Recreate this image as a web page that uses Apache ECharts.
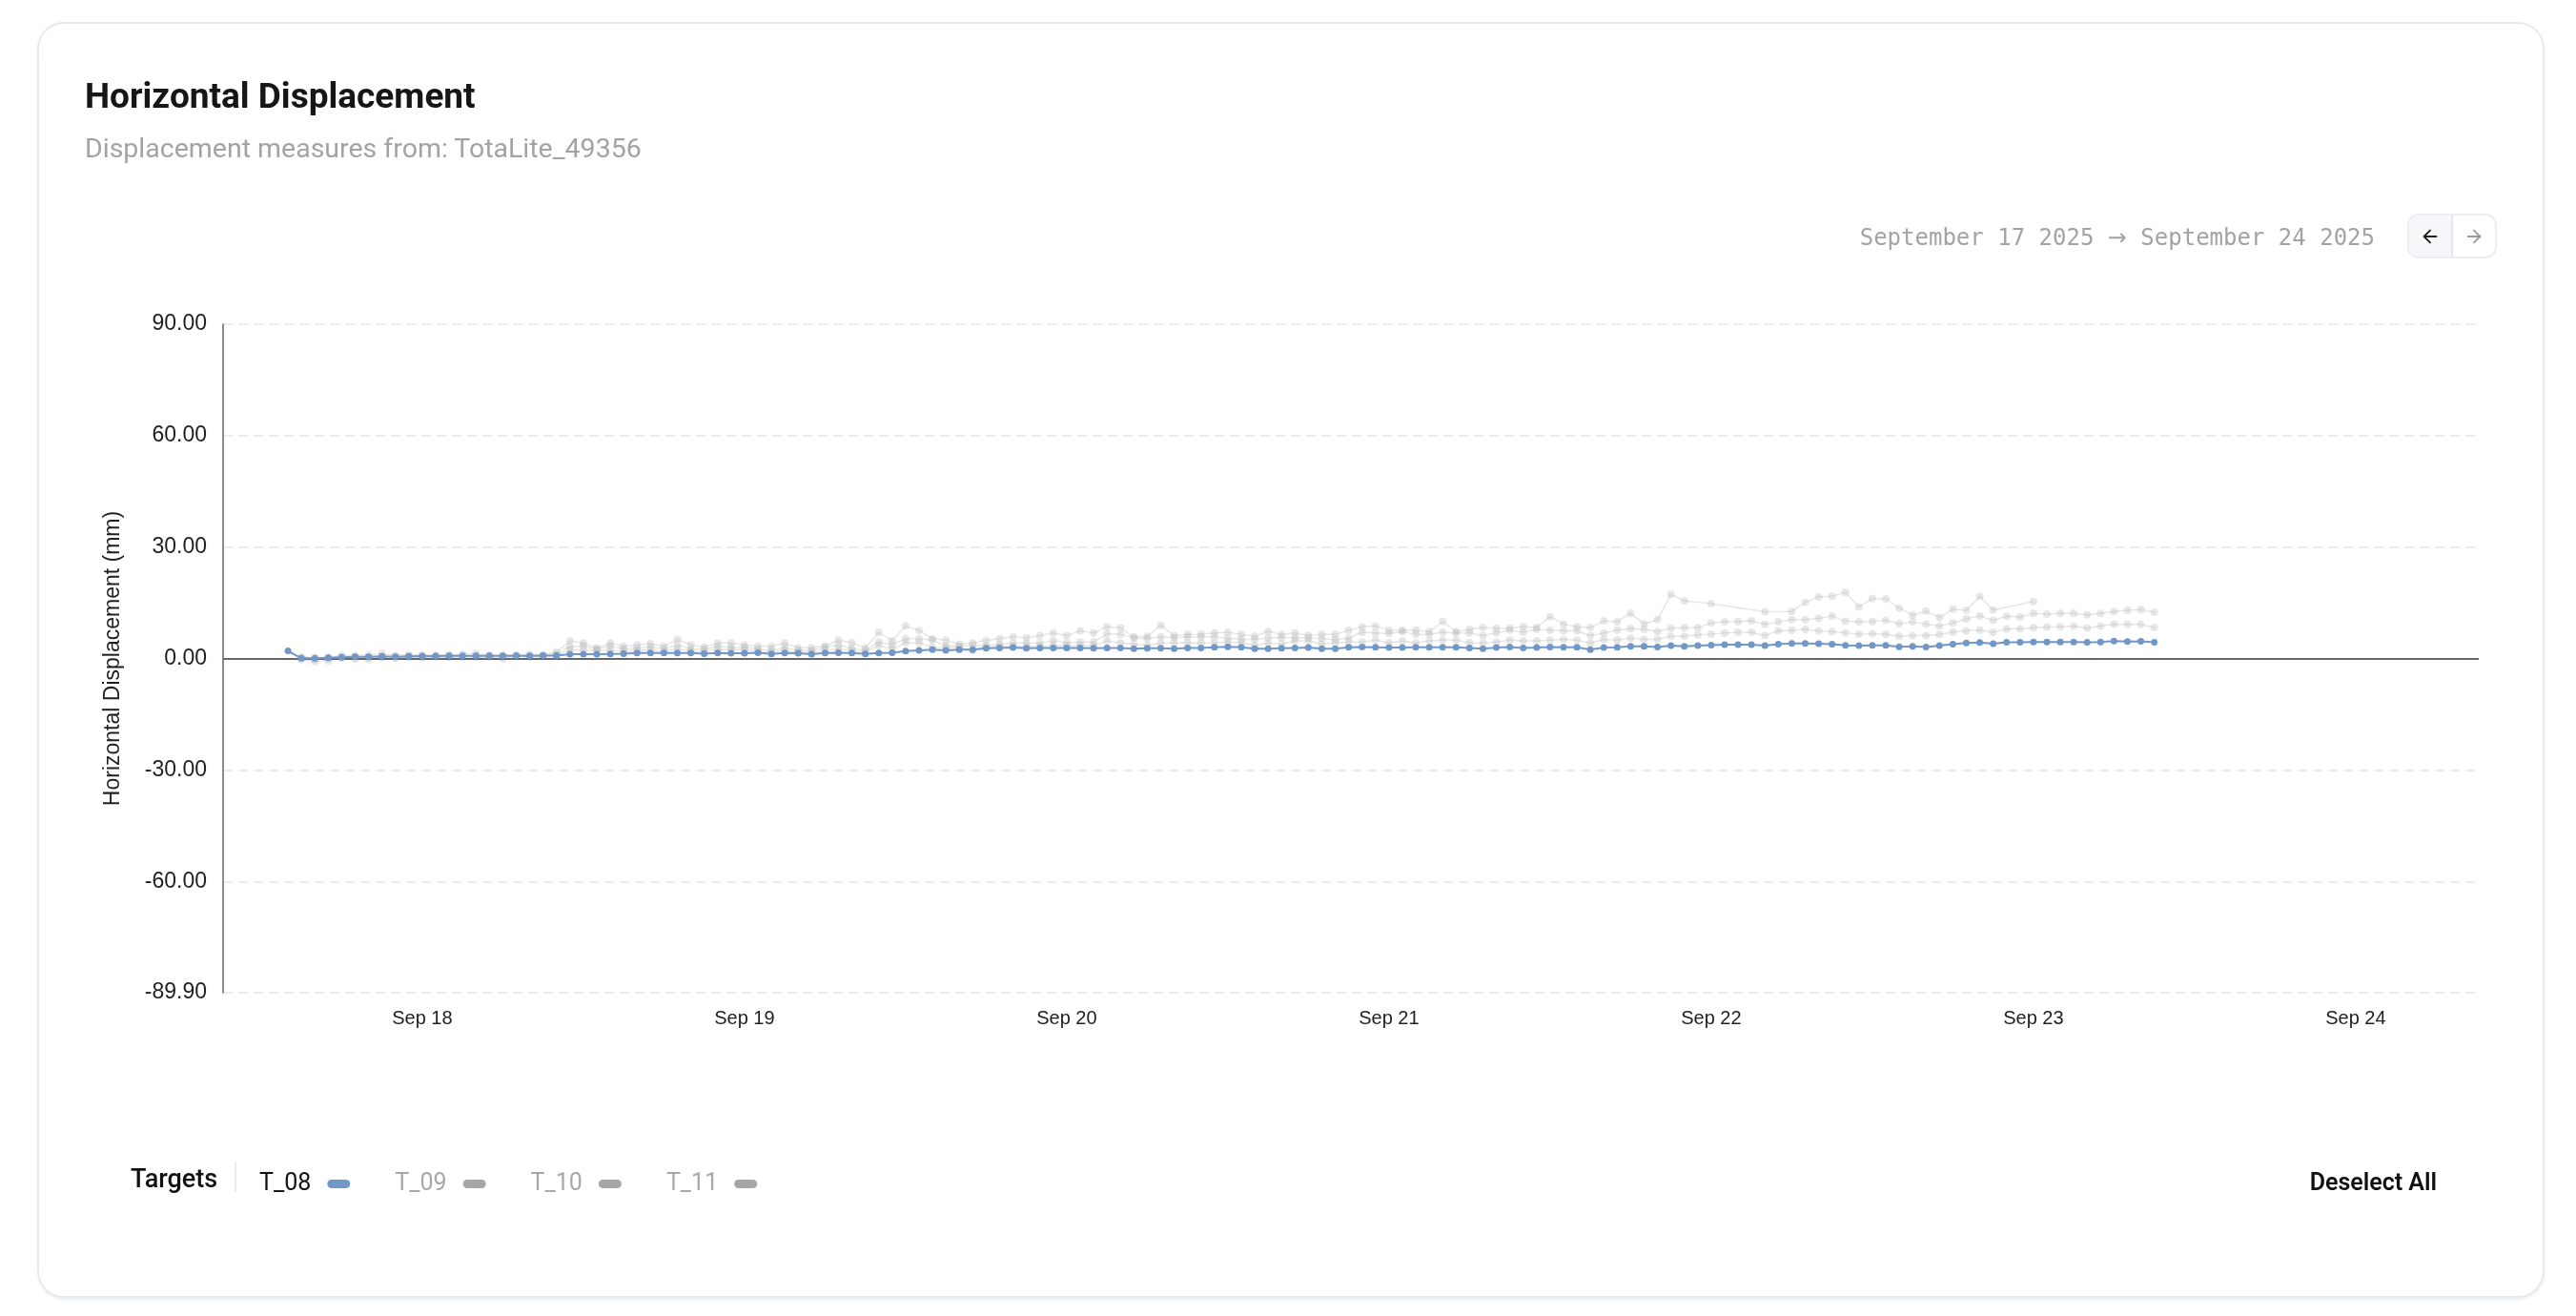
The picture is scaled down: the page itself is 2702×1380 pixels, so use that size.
<!DOCTYPE html>
<html>
<head>
<meta charset="utf-8">
<title>Horizontal Displacement</title>
<script src="https://cdn.jsdelivr.net/npm/echarts@6.0.0/dist/echarts.min.js"></script>
<style>
  html, body { margin: 0; padding: 0; background: #fff; }
  body { width: 2702px; height: 1380px; position: relative; overflow: hidden; font-family: Roboto, "Noto Sans", sans-serif; }
  .card { position: absolute; left: 39px; top: 23px; width: 2630px; height: 1338px; box-sizing: border-box;
          border: 2px solid #e6e9f0; border-radius: 28px; box-shadow: 0 2px 3px rgba(200, 206, 220, 0.35); }
  #chart { position: absolute; left: 0; top: 0; width: 2702px; height: 1380px; }
  .title { position: absolute; left: 89px; top: 82px; font-size: 37px; line-height: 37px; font-weight: 700; color: #161616; white-space: nowrap; }
  .sub { position: absolute; left: 89px; top: 142px; font-size: 28.5px; line-height: 28px; color: #a3a3a3; white-space: nowrap; }
  .range { position: absolute; right: 211px; top: 237px; font-family: "DejaVu Sans Mono", monospace; font-size: 24px; line-height: 24px; color: #a3a3a3; white-space: pre; }
  .range .arr { font-family: "DejaVu Sans", sans-serif; font-size: 24px; }
  .nav { position: absolute; left: 2525px; top: 224px; width: 94px; height: 47px; box-sizing: border-box;
         border: 2px solid #eceef3; border-radius: 12px; display: flex; overflow: hidden; }
  .nav div { flex: 1; display: flex; align-items: center; justify-content: center; }
  .nav .prev { background: #f6f7f9; border-right: 2px solid #e4e7ee; }
</style>
</head>
<body>
<div class="card"></div>
<div id="chart"></div>
<div class="title">Horizontal Displacement</div>
<div class="sub">Displacement measures from: TotaLite_49356</div>
<div class="range">September 17 2025 <span class="arr">→</span> September 24 2025</div>
<div class="nav">
  <div class="prev"><svg width="22" height="22" viewBox="0 0 24 24" fill="none" stroke="#1f1f1f" stroke-width="2" stroke-linecap="round" stroke-linejoin="round"><path d="M19 12H5"/><path d="M12 19l-7-7 7-7"/></svg></div>
  <div class="next"><svg width="22" height="22" viewBox="0 0 24 24" fill="none" stroke="#9a9a9a" stroke-width="2" stroke-linecap="round" stroke-linejoin="round"><path d="M5 12h14"/><path d="M12 5l7 7-7 7"/></svg></div>
</div>
<script>
// readings are hourly, first one at 17 Sep 14:00
var firstReading = '2025-09-17T14:00:00';
var stepHours = 1;
var windowStart = '2025-09-17T09:10:00';
var windowEnd = '2025-09-24T09:10:00';

var targets = ['T_08', 'T_09', 'T_10', 'T_11'];

var t08 = [
  2.1, 0.1, 0.1, 0.25, 0.4, 0.5, 0.5, 0.6, 0.5, 0.6,
  0.7, 0.7, 0.75, 0.75, 0.75, 0.75, 0.75, 0.75, 0.75, 0.85,
  0.85, 1.2, 1.2, 1.2, 1.3, 1.35, 1.5, 1.5, 1.5, 1.5,
  1.5, 1.35, 1.5, 1.45, 1.45, 1.6, 1.3, 1.5, 1.45, 1.2,
  1.5, 1.6, 1.5, 1.3, 1.5, 1.6, 2.05, 2.2, 2.4, 2.2,
  2.4, 2.45, 2.8, 2.9, 3.0, 2.8, 2.9, 2.9, 2.9, 2.9,
  2.8, 2.9, 2.9, 2.7, 2.8, 2.8, 2.7, 2.9, 2.9, 3.05,
  3.2, 3.05, 2.65, 2.65, 2.8, 2.9, 3.0, 2.7, 2.65, 3.05,
  3.15, 3.05, 3.0, 3.0, 3.05, 3.05, 3.05, 3.05, 2.9, 2.7,
  3.0, 3.15, 2.9, 3.0, 3.15, 3.05, 3.05, 2.45, 3.0, 3.05,
  3.3, 3.3, 3.15, 3.5, 3.35, 3.5, 3.65, 3.75, 3.8, 3.8,
  3.5, 3.9, 4.1, 4.1, 4.0, 3.9, 3.55, 3.5, 3.55, 3.55,
  3.2, 3.3, 3.15, 3.5, 3.9, 4.25, 4.35, 4.0, 4.4, 4.4,
  4.5, 4.5, 4.5, 4.5, 4.4, 4.5, 4.75, 4.6, 4.7, 4.4
];

var t09 = [
  null, 0.5, 0.3, 0.4, 0.8, 0.9, 1.0, 1.4, 0.9, 1.1,
  1.0, 0.9, 1.1, 1.2, 1.4, 1.0, 1.1, 1.0, 1.2, 1.1,
  1.8, 4.8, 4.2, 2.8, 4.2, 3.3, 3.7, 4.0, 3.3, 5.2,
  3.7, 3.1, 4.2, 4.2, 3.7, 3.3, 3.3, 4.2, 2.9, 3.0,
  3.4, 5.0, 4.3, 2.9, 7.1, 4.8, 8.8, 7.6, 5.4, 5.0,
  3.9, 4.2, 4.9, 5.4, 5.9, 5.6, 6.2, 6.9, 6.2, 7.5,
  6.9, 8.6, 8.3, 5.8, 6.0, 9.0, 6.2, 6.5, 6.6, 6.9,
  7.1, 6.5, 6.0, 7.3, 6.5, 6.9, 6.3, 6.5, 6.5, 7.6,
  8.6, 8.8, 7.6, 7.6, 7.7, 7.3, 10.0, 7.3, 7.9, 8.4,
  8.2, 8.2, 8.6, 8.4, 11.3, 9.3, 8.6, 8.4, 10.1, 9.9,
  12.2, 9.3, 10.5, 17.3, 15.6, null, 14.8, null, null, null,
  12.6, null, 12.7, 15.1, 16.6, 16.8, 17.8, 13.9, 16.2, 16.1,
  13.6, 11.7, 12.8, 11.1, 13.3, 13.0, 16.7, 13.1, null, null,
  15.4, null, null, null, null, null, null, null, null, null
];

var t10 = [
  null, 0.1, -0.2, 0.0, 0.4, 0.5, 0.3, 0.6, 0.5, 0.7,
  0.6, 0.7, 0.6, 0.8, 0.7, 0.6, 0.5, 0.8, 0.7, 0.9,
  1.2, 3.3, 3.4, 2.6, 3.4, 2.6, 2.8, 3.1, 2.6, 3.7,
  2.6, 2.5, 3.3, 3.0, 3.0, 2.6, 2.2, 3.0, 2.2, 2.2,
  3.0, 3.7, 2.8, 2.2, 4.5, 3.7, 5.4, 5.4, 5.0, 3.5,
  3.3, 3.6, 3.5, 3.9, 4.2, 4.2, 4.2, 4.8, 4.3, 4.5,
  4.5, 6.7, 6.5, 5.6, 5.4, 5.9, 5.6, 5.8, 5.8, 5.9,
  5.5, 5.2, 5.2, 5.6, 5.6, 5.6, 5.6, 5.3, 5.2, 5.5,
  7.1, 6.9, 6.7, 7.3, 6.5, 6.5, 7.1, 6.9, 6.9, 6.2,
  6.9, 7.7, 7.1, 7.9, 7.7, 7.5, 7.5, 6.2, 6.9, 7.7,
  8.1, 7.9, 7.3, 8.2, 8.3, 8.3, 9.6, 9.9, 10.0, 10.2,
  9.2, 9.9, 10.5, 10.5, 10.8, 11.5, 10.1, 9.9, 10.0, 10.3,
  9.4, 9.9, 9.3, 8.8, 9.6, 10.7, 11.5, 10.3, 11.4, 11.2,
  12.2, 12.0, 12.2, 12.2, 11.8, 12.2, 12.7, 13.0, 13.2, 12.5
];

var t11 = [
  null, -0.3, -0.8, -0.6, 0.2, -0.1, -0.3, 0.2, 0.1, 0.3,
  0.2, 0.5, 0.3, 0.5, 0.3, 0.5, -0.1, 0.6, 0.5, 0.6,
  0.9, 2.4, 2.2, 2.2, 2.2, 2.0, 2.2, 2.2, 2.0, 2.6,
  2.0, 2.0, 2.5, 2.4, 2.4, 2.0, 1.8, 2.2, 1.8, 1.8,
  2.2, 2.6, 2.2, 1.8, 3.5, 2.6, 4.2, 4.3, 3.1, 3.0,
  3.0, 2.2, 3.2, 3.3, 3.4, 3.3, 3.4, 3.6, 3.5, 3.6,
  3.5, 4.8, 4.2, 3.9, 3.6, 4.2, 4.2, 4.2, 4.2, 4.3,
  4.5, 4.3, 3.6, 4.2, 3.9, 4.8, 4.8, 3.9, 4.3, 4.5,
  4.5, 5.0, 4.3, 4.8, 4.2, 4.8, 5.0, 5.0, 4.3, 4.2,
  4.5, 5.0, 4.8, 4.8, 5.0, 5.2, 5.0, 4.2, 5.2, 5.0,
  5.5, 5.2, 5.2, 6.0, 6.0, 6.4, 6.6, 6.9, 7.1, 7.1,
  6.2, 7.5, 7.6, 7.9, 7.5, 7.3, 6.9, 6.6, 6.7, 6.5,
  6.0, 6.2, 6.2, 6.5, 7.1, 7.5, 7.7, 7.1, 8.0, 8.0,
  8.3, 8.5, 8.6, 8.8, 8.2, 8.8, 9.3, 9.2, 9.2, 8.4
];

var yMin = -89.9;
var yMax = 90;
var yTicks = [90, 60, 30, 0, -30, -60, -89.9];
var xTickDays = ['2025-09-18', '2025-09-19', '2025-09-20', '2025-09-21', '2025-09-22', '2025-09-23', '2025-09-24'];
var monthNames = ['Jan', 'Feb', 'Mar', 'Apr', 'May', 'Jun', 'Jul', 'Aug', 'Sep', 'Oct', 'Nov', 'Dec'];

var activeColor = '#7197c7';
var mutedColor = '#a6a6a6';
var axisFont = '"Liberation Sans", Arial, sans-serif';
var uiFont = 'Roboto, "Noto Sans", sans-serif';

function toPairs(values) {
  var t0 = new Date(firstReading).getTime();
  var out = [];
  values.forEach(function (v, i) {
    if (v === null) return; // missing reading
    out.push([t0 + i * stepHours * 3600000, v]);
  });
  return out;
}

function grayLine(name, values) {
  return {
    name: name,
    type: 'line',
    data: toPairs(values),
    symbol: 'circle',
    symbolSize: 8,
    itemStyle: { color: 'rgba(185, 185, 185, 0.35)' },
    lineStyle: { color: 'rgba(185, 185, 185, 0.35)', width: 1.5 },
    emphasis: { disabled: true },
    z: 2
  };
}

var pill = 'path://M4.5,0 L19.5,0 A4.5,4.5 0 0 1 19.5,9 L4.5,9 A4.5,4.5 0 0 1 4.5,0 Z';

var myChart = echarts.init(document.getElementById('chart'));
myChart.setOption({
  animation: false,
  backgroundColor: 'transparent',
  grid: { left: 234, top: 340, width: 2366, height: 701 },
  // x is milliseconds since epoch on a plain value scale so the day ticks can be fixed
  xAxis: {
    type: 'value',
    min: new Date(windowStart).getTime(),
    max: new Date(windowEnd).getTime(),
    axisLine: { show: false, onZero: false },
    axisTick: { show: false },
    splitLine: { show: false },
    axisLabel: {
      customValues: xTickDays.map(function (d) { return new Date(d + 'T00:00:00').getTime(); }),
      formatter: function (v) {
        var d = new Date(v);
        return monthNames[d.getMonth()] + ' ' + d.getDate();
      },
      fontFamily: axisFont,
      fontSize: 20,
      color: '#1f1f1f',
      margin: 17
    }
  },
  yAxis: {
    type: 'value',
    min: yMin,
    max: yMax,
    name: 'Horizontal Displacement (mm)',
    nameLocation: 'middle',
    nameGap: 104,
    nameTextStyle: { fontFamily: axisFont, fontSize: 23, color: '#1f1f1f' },
    axisLine: { show: true, onZero: false, lineStyle: { color: '#666', width: 1.5 } },
    axisTick: { show: false, customValues: yTicks },
    axisLabel: {
      customValues: yTicks,
      formatter: function (v) { return v.toFixed(2); },
      fontFamily: axisFont,
      fontSize: 23,
      color: '#1f1f1f',
      margin: 17
    },
    splitLine: { show: true, lineStyle: { color: '#e4e7ee', width: 1.5, type: [10, 6] } }
  },
  legend: {
    left: 272,
    top: 1229,
    padding: 0,
    align: 'right',
    itemWidth: 24,
    itemHeight: 9,
    itemGap: 47,
    icon: pill,
    textStyle: { fontFamily: uiFont, fontSize: 25, padding: [0, 12, 0, 0] },
    data: [
      { name: targets[0], itemStyle: { color: activeColor }, textStyle: { color: '#111' } },
      { name: targets[1], itemStyle: { color: mutedColor }, textStyle: { color: '#a8a8a8' } },
      { name: targets[2], itemStyle: { color: mutedColor }, textStyle: { color: '#a8a8a8' } },
      { name: targets[3], itemStyle: { color: mutedColor }, textStyle: { color: '#a8a8a8' } }
    ]
  },
  graphic: [
    { type: 'text', left: 137, top: 1225, style: { text: 'Targets', font: '500 27px ' + uiFont, fill: '#111' } },
    { type: 'line', shape: { x1: 247, y1: 1218, x2: 247, y2: 1250 }, style: { stroke: '#e4e7ee', lineWidth: 1.5 } },
    { type: 'text', right: 2702 - 2556, top: 1229, style: { text: 'Deselect All', font: '600 25px ' + uiFont, fill: '#111' } }
  ],
  series: [
    grayLine(targets[1], t09),
    grayLine(targets[2], t10),
    grayLine(targets[3], t11),
    {
      name: targets[0],
      type: 'line',
      data: toPairs(t08),
      symbol: 'circle',
      symbolSize: 7,
      itemStyle: { color: activeColor },
      lineStyle: { color: activeColor, width: 2 },
      emphasis: { disabled: true },
      z: 5,
      markLine: {
        silent: true,
        symbol: ['none', 'none'],
        label: { show: false },
        lineStyle: { color: '#666', width: 2, type: 'solid' },
        data: [{ yAxis: 0 }]
      }
    }
  ]
});
</script>
</body>
</html>
